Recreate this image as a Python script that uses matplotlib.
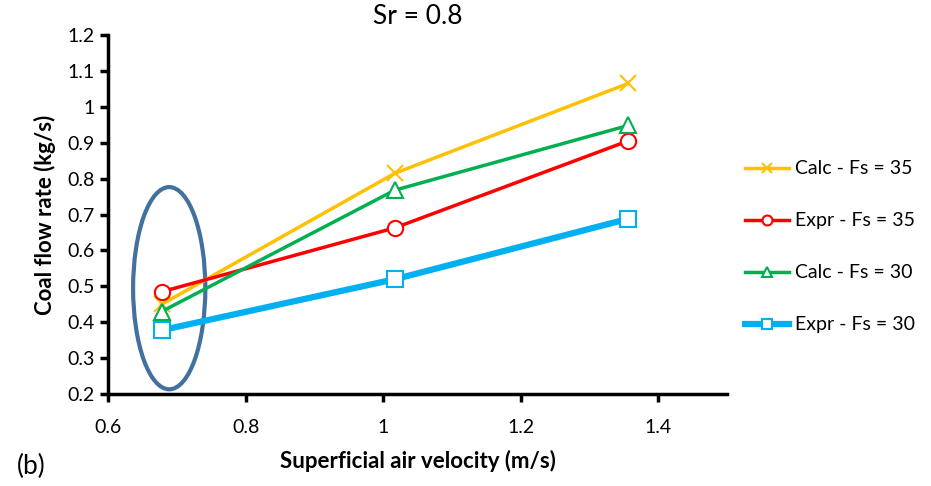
import matplotlib.pyplot as plt
from matplotlib.patches import Ellipse

# data
velocity = [0.678, 1.017, 1.356]
calc_35 = [0.45, 0.815, 1.065]
expr_35 = [0.485, 0.663, 0.905]
calc_30 = [0.43, 0.768, 0.948]
expr_30 = [0.378, 0.52, 0.688]

plt.rcParams['font.family'] = ['Lato', 'DejaVu Sans']

fig = plt.figure(figsize=(9.31, 4.86), dpi=100)
ax = fig.add_axes([0.116, 0.189, 0.665, 0.739])

ax.plot(velocity, calc_35, color='#FFC000', lw=2.5, marker='x', ms=12, mew=1.5,
        label='Calc - Fs = 35')
ax.plot(velocity, expr_35, color='#FF0000', lw=2.5, marker='o', ms=11, mew=1.5,
        mfc='white', label='Expr - Fs = 35')
ax.plot(velocity, calc_30, color='#00B050', lw=2.5, marker='^', ms=12, mew=1.5,
        mfc='white', label='Calc - Fs = 30')
ax.plot(velocity, expr_30, color='#00B0F0', lw=4.5, marker='s', ms=11, mew=1.5,
        mfc='white', label='Expr - Fs = 30')

ax.add_patch(Ellipse((0.689, 0.495), 0.105, 0.563, fill=False,
                     edgecolor='#41719C', lw=3))

ax.set_xlim(0.6, 1.5)
ax.set_ylim(0.2, 1.2)
ax.set_xticks([0.6, 0.8, 1.0, 1.2, 1.4])
ax.set_xticklabels(['0.6', '0.8', '1', '1.2', '1.4'])
ax.set_yticks([0.2, 0.3, 0.4, 0.5, 0.6, 0.7, 0.8, 0.9, 1.0, 1.1, 1.2])
ax.set_yticklabels(['0.2', '0.3', '0.4', '0.5', '0.6', '0.7', '0.8', '0.9', '1', '1.1', '1.2'])

for s in ['top', 'right']:
    ax.spines[s].set_visible(False)
for s in ['left', 'bottom']:
    ax.spines[s].set_linewidth(2.5)
ax.tick_params(width=2.5, length=6, labelsize=14)
ax.tick_params(axis='x', pad=12)

ax.set_xlabel('Superficial air velocity (m/s)', fontsize=16, fontweight='bold', labelpad=10)
ax.set_ylabel('Coal flow rate (kg/s)', fontsize=16, fontweight='bold', labelpad=8)
ax.set_title('Sr = 0.8', fontsize=19, pad=8)

ax.legend(loc='center left', bbox_to_anchor=(1.0, 0.41), frameon=False,
          fontsize=14, labelspacing=1.8, handlelength=2.3, handletextpad=0.3,
          markerscale=0.65)

fig.text(0.018, 0.025, '(b)', fontsize=19)

fig.savefig('out.png', dpi=100)
